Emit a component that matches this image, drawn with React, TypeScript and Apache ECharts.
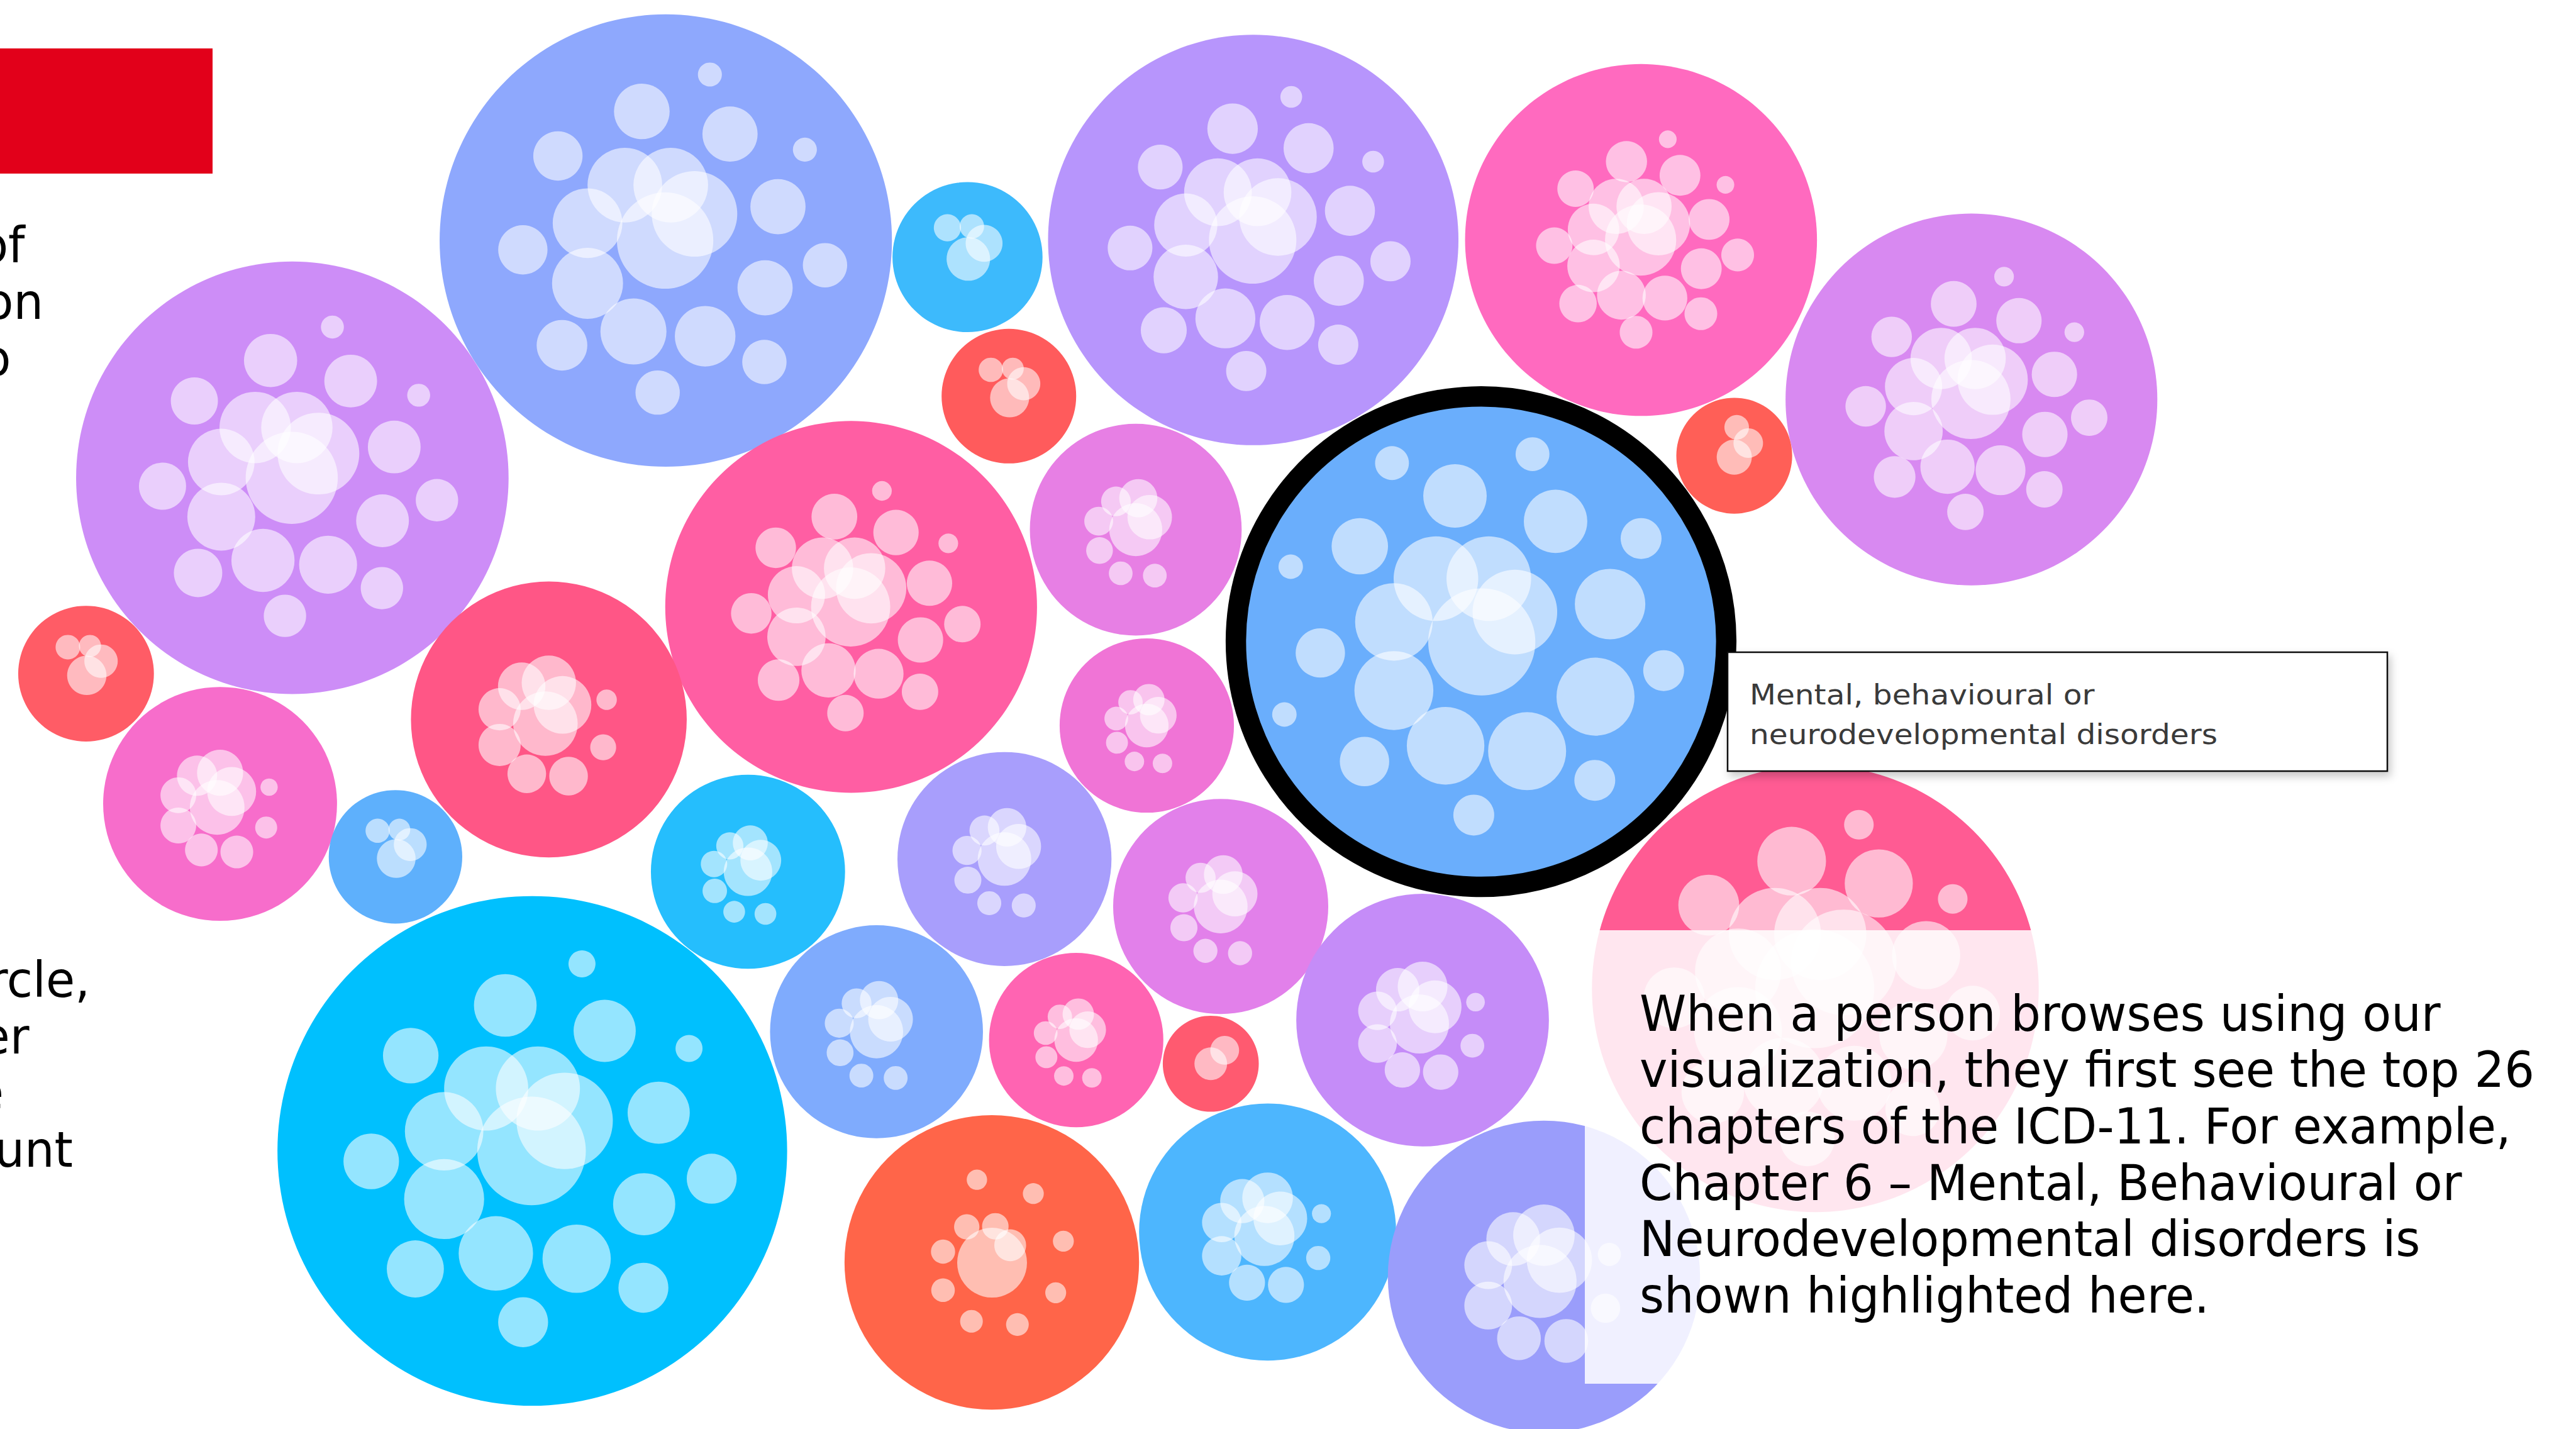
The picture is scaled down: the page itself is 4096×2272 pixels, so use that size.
import React, { useEffect, useRef } from "react";
import * as echarts from "echarts";

// Bubble centres / radii in reference pixels (4670 x 2590 reference)
const bubbleX = [1207, 1754, 2272, 2975, 3574, 1829, 530, 1543, 2059, 2685, 3144, 156, 399, 995, 717, 2079, 1356, 1821, 2213, 3291, 965, 1589, 1951, 2195, 2579, 1798, 2298, 2799];
const bubbleY = [436, 466, 435, 435, 724, 718, 866, 1100, 960, 1163, 826, 1221, 1457, 1304, 1553, 1315, 1580, 1557, 1643, 1792, 2086, 1870, 1885, 1928, 1849, 2288, 2233, 2314];
const bubbleR = [410, 136, 372, 319, 337, 122, 392, 337, 192, 426, 105, 123, 212, 250, 121, 158, 176, 194, 195, 405, 462, 193, 158, 87, 229, 267, 233, 283];
const bubbleColor = ["#8EA8FD", "#3DBAFC", "#B795FC", "#FF6ABF", "#D889F1", "#FF5B5C", "#CD8DF7", "#FF5EA3", "#E77FE4", "#6AAEFC", "#FF5F57", "#FF5C66", "#F76DCB", "#FF5686", "#5EB0FC", "#F074D6", "#25BEFD", "#A89EFC", "#E280EA", "#FF5B93", "#00C0FE", "#7FABFD", "#FF64B2", "#FF5A70", "#C58CF8", "#FF6549", "#4DB6FE", "#9A9DFB"];
const bubblePattern = ["bigA", "small", "bigA", "bigA", "bigA", "small", "bigA", "bigA", "medium", "bigB", "tiny3", "small", "mediumPlus", "mediumPlus", "small", "medium", "medium", "medium", "medium", "bigA", "bigA", "medium", "medium", "tiny2", "mediumPlus", "orange", "mediumPlus", "mediumPlus"];
const bubbleSpread = [1, 1, 0.95, 0.78, 0.9, 1, 0.95, 0.85, 1, 1, 1, 1, 1, 1, 1, 1, 1, 1, 1, 1, 1, 1, 1, 1, 1, 1, 1, 1];
const bubbleChildScale = [1, 1, 1, 0.95, 1, 1, 1, 1, 1, 1, 1, 1, 1, 1, 1, 1, 1, 1, 1, 1.25, 1, 1, 1, 1, 1, 1, 1, 1];
const highlightIndex = 9;
const highlightRing = 37;

// inner sub-circles: [dx, dy, r] relative to parent radius
const BIG_A = [
  [-0.181, -0.245, 0.165], [0.022, -0.245, 0.165], [0.127, -0.118, 0.189], [-0.346, -0.077, 0.154], [-0.003, 0, 0.213], [-0.346, 0.189, 0.157],
  [-0.106, -0.571, 0.123], [0.284, -0.471, 0.122], [-0.477, -0.374, 0.109], [0.195, -0.734, 0.053], [0.615, -0.402, 0.053], [0.496, -0.15, 0.122],
  [-0.632, 0.041, 0.109], [0.439, 0.209, 0.122], [0.704, 0.109, 0.098], [-0.459, 0.463, 0.112], [-0.143, 0.402, 0.146], [0.174, 0.423, 0.134],
  [0.436, 0.537, 0.098], [-0.036, 0.672, 0.098],
];
const BIG_B = [
  [-0.192, -0.268, 0.18], [0.033, -0.268, 0.18], [-0.371, -0.084, 0.165], [0.144, -0.126, 0.18], [0.003, 0.001, 0.228], [-0.371, 0.208, 0.168],
  [-0.111, -0.62, 0.135], [0.317, -0.512, 0.135], [-0.516, -0.406, 0.12], [-0.379, -0.76, 0.072], [0.219, -0.798, 0.072], [0.681, -0.439, 0.087],
  [0.549, -0.16, 0.15], [-0.81, -0.319, 0.052], [-0.684, 0.048, 0.105], [0.487, 0.234, 0.166], [0.777, 0.123, 0.087], [-0.837, 0.31, 0.052],
  [-0.496, 0.51, 0.105], [-0.151, 0.443, 0.165], [0.196, 0.466, 0.166], [0.484, 0.59, 0.087], [-0.031, 0.738, 0.087],
];
const MEDIUM = [
  [-0.187, -0.267, 0.14], [0.024, -0.297, 0.18], [0.132, -0.118, 0.21], [-0.35, -0.08, 0.136], [0, 0, 0.25], [-0.342, 0.197, 0.126],
  [-0.142, 0.412, 0.112], [0.18, 0.434, 0.112],
];
const MEDIUM_PLUS = [
  [-0.197, -0.241, 0.172], [0, -0.266, 0.197], [0.099, -0.106, 0.209], [-0.357, -0.074, 0.153], [-0.025, 0.03, 0.234], [-0.357, 0.185, 0.153],
  [-0.16, 0.394, 0.14], [0.143, 0.411, 0.14], [0.419, -0.143, 0.074], [0.394, 0.202, 0.094],
];
const SMALL = [[-0.268, -0.391, 0.181], [0.058, -0.409, 0.163], [0.221, -0.184, 0.246], [0.011, 0.025, 0.29]];
const TINY3 = [[0.042, -0.491, 0.212], [0.242, -0.218, 0.255], [0, 0.024, 0.303]];
const TINY2 = [[0.29, -0.28, 0.3], [0, 0, 0.34]];
const ORANGE = [
  [0.002, 0.002, 0.237], [-0.17, -0.241, 0.086], [0.024, -0.245, 0.09], [0.125, -0.116, 0.108], [-0.331, -0.073, 0.082], [-0.101, -0.561, 0.069],
  [0.282, -0.467, 0.071], [0.486, -0.144, 0.071], [-0.331, 0.189, 0.08], [0.434, 0.206, 0.071], [-0.138, 0.4, 0.077], [0.174, 0.422, 0.077],
];
const PATTERNS: Record<string, number[][]> = { bigA: BIG_A, bigB: BIG_B, medium: MEDIUM, mediumPlus: MEDIUM_PLUS, small: SMALL, tiny3: TINY3, tiny2: TINY2, orange: ORANGE };

const paragraphLines = [
  "When a person browses using our",
  "visualization, they first see the top 26",
  "chapters of the ICD-11. For example,",
  "Chapter 6 \u2013 Mental, Behavioural or",
  "Neurodevelopmental disorders is",
  "shown highlighted here.",
];
const tooltipLines = ["Mental, behavioural or", "neurodevelopmental disorders"];
const leftFragments = ["of", "on", "o", "rcle,", "er", "e", "unt"];
const leftFragmentRight = [39.5, 69, 17.5, 143, 46.5, 6, 116];
const leftFragmentBaseline = [416, 506, 596, 1584, 1674, 1763, 1854];

const FONT = '"DejaVu Sans", Verdana, sans-serif';

export default function App() {
  const ref = useRef<HTMLDivElement>(null);
  useEffect(() => {
    if (!ref.current) return;
    const chart = echarts.init(ref.current, undefined, { renderer: "svg" });
    const bodyFont = 79;
    const midOff = bodyFont * 0.34;
    const graphics: any[] = [];
    graphics.push({ type: "rect", z: 10, shape: { x: 0, y: 77, width: 338, height: 199 }, style: { fill: "#E2001A" } });
    graphics.push({ type: "rect", z: 10, shape: { x: 2520, y: 1479, width: 1576, height: 721 }, style: { fill: "rgba(255,255,255,0.85)" } });
    paragraphLines.forEach((t, i) => {
      graphics.push({
        type: "text", z: 11, x: 2607, y: 1638 + i * 89.6 - midOff, scaleX: 0.95,
        style: { text: t, fontSize: bodyFont, fontFamily: FONT, fill: "#000", align: "left", verticalAlign: "middle", textAlign: "left", textVerticalAlign: "middle" },
      });
    });
    leftFragments.forEach((t, i) => {
      graphics.push({
        type: "text", z: 11, x: leftFragmentRight[i], y: leftFragmentBaseline[i] - midOff, scaleX: 0.95,
        style: { text: t, fontSize: bodyFont, fontFamily: FONT, fill: "#000", align: "right", verticalAlign: "middle", textAlign: "right", textVerticalAlign: "middle" },
      });
    });
    graphics.push({
      type: "rect", z: 12, shape: { x: 2747, y: 1037, width: 1049, height: 189 },
      style: { fill: "#fff", stroke: "#111", lineWidth: 2.5, shadowBlur: 14, shadowColor: "rgba(0,0,0,0.22)", shadowOffsetX: 4, shadowOffsetY: 7 },
    });
    tooltipLines.forEach((t, i) => {
      graphics.push({
        type: "text", z: 13, x: 2782, y: 1120 + i * 63 - 45 * 0.34, scaleX: 1.08,
        style: { text: t, fontSize: 45, fontFamily: FONT, fill: "#3a3a3a", align: "left", verticalAlign: "middle", textAlign: "left", textVerticalAlign: "middle" },
      });
    });

    const data = bubbleX.map((x, i) => [x, bubbleY[i], bubbleR[i]]);
    const option: any = {
      animation: false,
      grid: { left: 0, right: 0, top: 0, bottom: 0 },
      xAxis: { type: "value", min: 0, max: 4670, show: false },
      yAxis: { type: "value", min: 0, max: 2590, inverse: true, show: false },
      series: [
        {
          type: "custom",
          silent: true,
          clip: false,
          data,
          renderItem: (params: any, api: any) => {
            const i = params.dataIndex;
            const p = api.coord([api.value(0), api.value(1)]);
            const rp = api.size([api.value(2), 0])[0];
            const hl = i === highlightIndex;
            const ringPx = api.size([highlightRing, 0])[0];
            const children: any[] = [];
            children.push({
              type: "circle",
              z2: hl ? 20 : 1,
              shape: { cx: p[0], cy: p[1], r: hl ? rp + ringPx / 2 : rp },
              style: hl ? { fill: bubbleColor[i], stroke: "#000", lineWidth: ringPx } : { fill: bubbleColor[i] },
            });
            const pat = PATTERNS[bubblePattern[i]];
            const sp = bubbleSpread[i];
            const cs = bubbleChildScale[i];
            pat.forEach((c) => {
              children.push({
                type: "circle",
                z2: hl ? 21 : 2,
                shape: { cx: p[0] + c[0] * rp * sp, cy: p[1] + c[1] * rp * sp, r: c[2] * rp * cs },
                style: { fill: "rgba(255,255,255,0.58)" },
              });
            });
            return { type: "group", children };
          },
        },
      ],
      graphic: { elements: graphics },
    };
    chart.setOption(option);
    return () => chart.dispose();
  }, []);
  return <div ref={ref} style={{ position: "fixed", left: 0, top: 0, width: 4096, height: 2272, background: "#fff" }} />;
}
